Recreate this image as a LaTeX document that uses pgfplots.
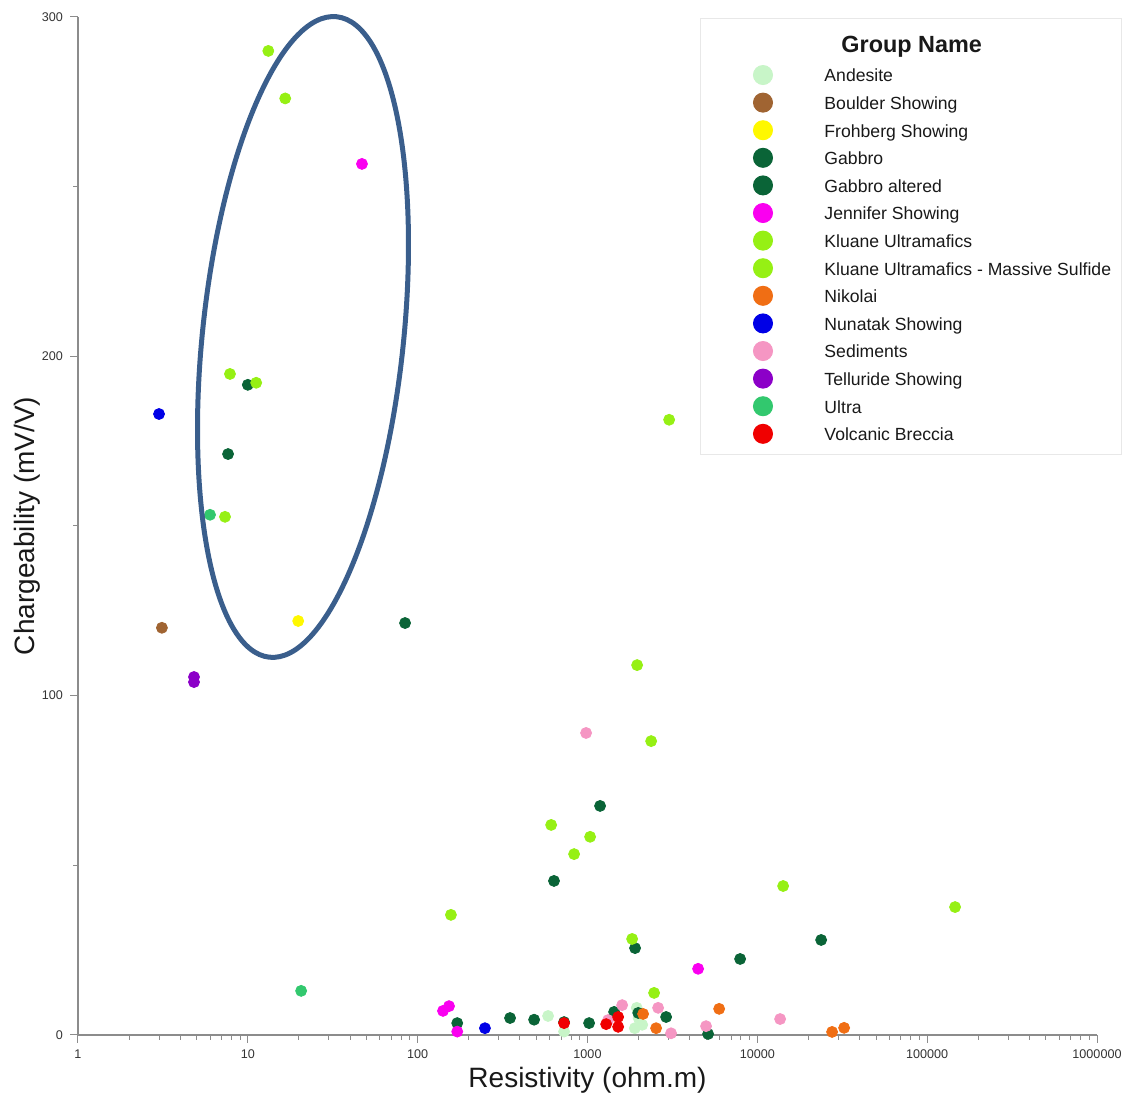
\documentclass[border=0pt]{standalone}
\usepackage{fontspec}
\setmainfont{Liberation Sans}
\usepackage{graphicx}
\usepackage{pgfplots}
\pgfplotsset{compat=1.18}
\definecolor{cAnd}{RGB}{200,245,200}
\definecolor{cBou}{RGB}{160,100,50}
\definecolor{cFro}{RGB}{255,248,0}
\definecolor{cGab}{RGB}{10,100,55}
\definecolor{cJen}{RGB}{250,0,240}
\definecolor{cKlu}{RGB}{150,240,20}
\definecolor{cNik}{RGB}{240,110,20}
\definecolor{cNun}{RGB}{0,0,230}
\definecolor{cSed}{RGB}{245,150,195}
\definecolor{cTel}{RGB}{140,0,200}
\definecolor{cUlt}{RGB}{50,200,110}
\definecolor{cVol}{RGB}{240,0,0}
\definecolor{cEll}{RGB}{58,94,140}
\definecolor{axgray}{RGB}{140,140,140}
\pgfplotsset{
  dot/.style={only marks, mark=*, mark size=2.75pt, mark options={draw=#1, fill=#1}, forget plot},
  leg/.style={only marks, mark=*, mark options={draw=#1, fill=#1}},
}
\begin{document}
\begin{tikzpicture}
\begin{axis}[
  name=ax,
  scale only axis,
  width=509.5pt, height=509pt,
  xmode=log, xmin=1, xmax=1000000,
  ymin=0, ymax=300,
  axis lines=left,
  axis line style={-, draw=axgray, line width=0.6pt},
  tick style={draw=axgray, line width=0.5pt},
  tick align=outside,
  major tick length=4pt, minor tick length=2.5pt,
  xtick={1,10,100,1000,10000,100000,1000000},
  xticklabels={1,10,100,1000,10000,100000,1000000},
  minor xtick={2,3,4,5,6,7,8,9,20,30,40,50,60,70,80,90,200,300,400,500,600,700,800,900,2000,3000,4000,5000,6000,7000,8000,9000,20000,30000,40000,50000,60000,70000,80000,90000,200000,300000,400000,500000,600000,700000,800000,900000},
  ytick={0,100,200,300},
  minor ytick={50,150,250},
  /pgf/number format/assume math mode=true,
  ticklabel style={font=\fontsize{6.3}{7}\selectfont, text=black!80},
  xlabel={Resistivity (ohm.m)},
  ylabel={Chargeability (mV/V)},
  label style={font=\fontsize{14}{16}\selectfont, text=black!90},
  xlabel style={at={(axis description cs:0.5,-0.0442)}, anchor=center},
  ylabel style={at={(axis description cs:-0.05,0.5)}, anchor=center},
  clip=false,
  legend image code/.code={\path (-31pt,0pt) (30.5pt,0pt); \draw[#1, mark size=4.75pt] plot coordinates {(0pt,0pt)};},
  legend cell align=left,
  legend style={at={(0.6104,0.999)}, anchor=north west, draw={rgb,255:red,232;green,232;blue,232}, line width=0.5pt, fill=white,
    inner xsep=0pt, inner ysep=3.5pt, column sep=0pt, row sep=0pt,
    font=\fontsize{8.8}{10}\selectfont,
    nodes={inner sep=0pt, text height=10.3pt, text depth=3.5pt, text=black!90}},
]
% legend
\addlegendimage{empty legend}
\addlegendentry[text height=13.25pt, text depth=4.6pt, font=\fontsize{11.7}{14}\selectfont\bfseries]{\hspace*{8.5pt}Group Name}
\addlegendimage{leg=cAnd}\addlegendentry{Andesite}
\addlegendimage{leg=cBou}\addlegendentry{Boulder Showing}
\addlegendimage{leg=cFro}\addlegendentry{Frohberg Showing}
\addlegendimage{leg=cGab}\addlegendentry{Gabbro}
\addlegendimage{leg=cGab}\addlegendentry{Gabbro altered}
\addlegendimage{leg=cJen}\addlegendentry{Jennifer Showing}
\addlegendimage{leg=cKlu}\addlegendentry{Kluane Ultramafics}
\addlegendimage{leg=cKlu}\addlegendentry{Kluane Ultramafics - Massive Sulfide\hspace*{5pt}}
\addlegendimage{leg=cNik}\addlegendentry{Nikolai}
\addlegendimage{leg=cNun}\addlegendentry{Nunatak Showing}
\addlegendimage{leg=cSed}\addlegendentry{Sediments}
\addlegendimage{leg=cTel}\addlegendentry{Telluride Showing}
\addlegendimage{leg=cUlt}\addlegendentry{Ultra}
\addlegendimage{leg=cVol}\addlegendentry{Volcanic Breccia}
% data
% Andesite
\addplot[dot=cAnd] coordinates {(586,5.6) (1950,8) (2000,5) (2100,3) (1900,2) (728,1)};
% Boulder Showing
\addplot[dot=cBou] coordinates {(3.12,120)};
% Frohberg Showing
\addplot[dot=cFro] coordinates {(19.8,122)};
% Gabbro
\addplot[dot=cGab] coordinates {(10.0,191.6) (7.65,171.2) (1906,25.6) (7920,22.4) (171,3.5) (350,5) (485,4.5) (728,3.8) (1022,3.5) (1435,6.8) (1990,6.5) (2904,5.3) (5130,0.3)};
% Gabbro altered
\addplot[dot=cGab] coordinates {(84.3,121.4) (1186,67.5) (635,45.4) (23760,28)};
% Jennifer Showing
\addplot[dot=cJen] coordinates {(47,256.7) (4480,19.5) (141,7.1) (153,8.5) (171,1)};
% Kluane Ultramafics
\addplot[dot=cKlu] coordinates {(3025,181.3) (1960,109) (2370,86.6) (611,61.9) (1036,58.4) (834,53.3) (14190,43.9) (146000,37.7) (157,35.4) (1832,28.3) (2467,12.4)};
% Kluane Ultramafics - Massive Sulfide
\addplot[dot=cKlu] coordinates {(13.2,290) (16.6,276) (7.85,194.8) (11.2,192.2) (7.34,152.7)};
% Nikolai
\addplot[dot=cNik] coordinates {(2125,6.2) (2535,2) (5960,7.7) (27560,0.9) (32440,2.1)};
% Nunatak Showing
\addplot[dot=cNun] coordinates {(3.0,183) (249,2)};
% Sediments
\addplot[dot=cSed] coordinates {(981,89) (1600,8.8) (1322,4.4) (2605,8) (3105,0.5) (4990,2.6) (13620,4.7)};
% Telluride Showing
\addplot[dot=cTel] coordinates {(4.82,105.5) (4.82,104)};
% Ultra
\addplot[dot=cUlt] coordinates {(5.99,153.3) (20.6,13)};
% Volcanic Breccia
\addplot[dot=cVol] coordinates {(728,3.5) (1288,3.2) (1515,5.3) (1515,2.4)};
\end{axis}
\coordinate (ec) at ([shift={(112.5pt,349pt)}]ax.south west);
\draw[cEll, line width=2.5pt, rotate around={-6:(ec)}] (ec) ellipse [x radius=50.25pt, y radius=161pt];
\pgfresetboundingbox
\path ([shift={(-39pt,-30pt)}]ax.south west) rectangle ([shift={(15pt,8.5pt)}]ax.north east);
\end{tikzpicture}
\end{document}
